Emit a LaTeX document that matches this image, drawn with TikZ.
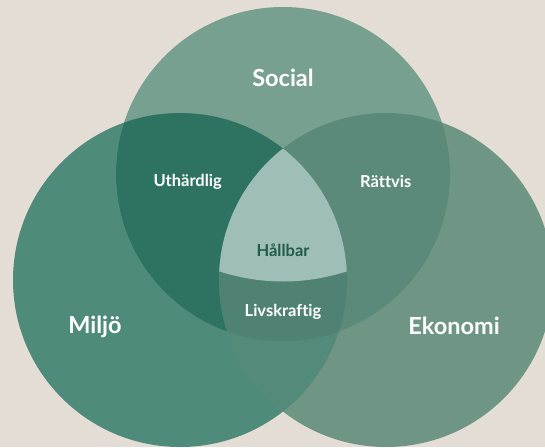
\documentclass[tikz,border=0pt]{standalone}
\usepackage{fontspec}
\setmainfont{Lato}[Ligatures=NoCommon]
\definecolor{paper}{HTML}{E4DDD5}
\definecolor{miljo}{HTML}{4F8B7A}
\definecolor{eko}{HTML}{6F9685}
\definecolor{miljoeko}{HTML}{538A79}
\definecolor{social}{HTML}{77A090}
\definecolor{uthard}{HTML}{2E7262}
\definecolor{rattvis}{HTML}{5C8A7A}
\definecolor{livs}{HTML}{4F8273}
\definecolor{hallbar}{HTML}{A0BEB8}
\definecolor{hallbartext}{HTML}{1F5C4B}

\begin{document}
\begin{tikzpicture}[x=1pt, y=-1pt,
  every node/.style={text=white, inner sep=0pt},
  title/.style={font=\fontsize{23.5}{27}\selectfont\bfseries, anchor=base},
  area/.style={font=\fontsize{16.5}{19}\selectfont\bfseries}
]
\useasboundingbox (0,0) rectangle (545,447);
\fill[paper] (0,0) rectangle (545,447);

% circle centres
\coordinate (soc) at (283,174);
\coordinate (mil) at (180,280);
\coordinate (eko) at (386,280);
\def\rad{167pt}

% single circles
\fill[miljo] (mil) circle[radius=\rad];
\fill[eko] (eko) circle[radius=\rad];
\begin{scope}
  \clip (mil) circle[radius=\rad];
  \fill[miljoeko] (eko) circle[radius=\rad];
\end{scope}
\fill[social] (soc) circle[radius=\rad];

% pairwise overlaps
\begin{scope}
  \clip (soc) circle[radius=\rad];
  \fill[uthard] (mil) circle[radius=\rad];
  \fill[rattvis] (eko) circle[radius=\rad];
\end{scope}

% centre: all three
\begin{scope}
  \clip (mil) circle[radius=\rad];
  \clip (eko) circle[radius=\rad];
  \fill[livs] (soc) circle[radius=\rad];
  \fill[hallbar] (200,100) -- (200,264.4)
    .. controls (255.3,287.2) and (310.7,287.2) .. (366,264.4)
    -- (366,100) -- cycle;
\end{scope}

% labels
\node[title] (social) at (283,86) {Social};
\node[title] (miljo) at (95,333) {Miljö};
\node[title] (ekonomi) at (454,334) {Ekonomi};
\node[area] (uthardlig) at (187.7,181.5) {Uthärdlig};
\node[area] (rattvis) at (385.8,181.5) {Rättvis};
\node[area, text=hallbartext] (hallbar) at (283,250) {Hållbar};
\node[area] (livskraftig) at (283,311.7) {Livskraftig};
\end{tikzpicture}
\end{document}
